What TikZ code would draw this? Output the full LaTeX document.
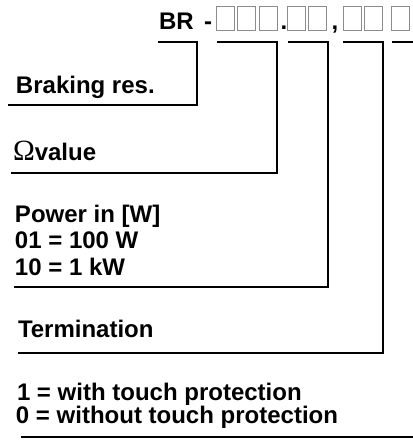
\documentclass[tikz,border=0pt]{standalone}
\usepackage{fontspec}
\setmainfont{Liberation Sans}
\newfontfamily\omegafont{Liberation Serif}

\begin{document}
\begin{tikzpicture}[x=0.75pt, y=-0.75pt, line width=1.5pt,
	every node/.style={inner sep=0pt, font=\fontsize{18}{20}\selectfont\bfseries},
	lbl/.style={anchor=base west},
	field/.style={draw=gray!90, line width=0.7pt, minimum width=13.5pt, minimum height=18pt, anchor=north west}]
	\useasboundingbox (0,0) rectangle (413,440);
	\clip (0,0) rectangle (413,440);
	% type code
	\node[lbl] (br) at (158,29) {BR};
	\node[lbl] (dash) at (203,29) {-};
	\foreach \n/\x in {1/216,2/237,3/258.5,4/287,5/308,6/343,7/364,8/390.5}
		\node[field] (b\n) at (\x,6) {};
	\node[lbl] (dot) at (279.5,29) {.};
	\node[lbl] (comma) at (330.5,29) {,};
	% labels
	\node[lbl] (brake) at (15,93) {Braking res.};
	\node[lbl] (ohm) at (12,160) {{\omegafont\mdseries\fontsize{22}{22}\selectfont Ω}value};
	\node[lbl] (power) at (14,222) {Power in [W]};
	\node[lbl] (power2) at (14,248.5) {01 = 100 W};
	\node[lbl] (power3) at (14,275) {10 = 1 kW};
	\node[lbl] (term) at (17,337) {Termination};
	\node[lbl] (touch) at (16,400) {1 = with touch protection};
	\node[lbl] (touch2) at (15,423) {0 = without touch protection};
	% leader lines
	\foreach \i/\sx/\kx/\ky/\ex in {1/158/197/105/8, 2/217/277/173/11, 3/288/328/287/14, 4/343/383/353/18, 5/392/416/437/21} {
		\coordinate (s\i) at (\sx,42);
		\coordinate (k\i) at (\kx,\ky);
		\coordinate (e\i) at (\ex,\ky);
		\draw (s\i) -| (k\i) -- (e\i);
	}
\end{tikzpicture}
\end{document}
